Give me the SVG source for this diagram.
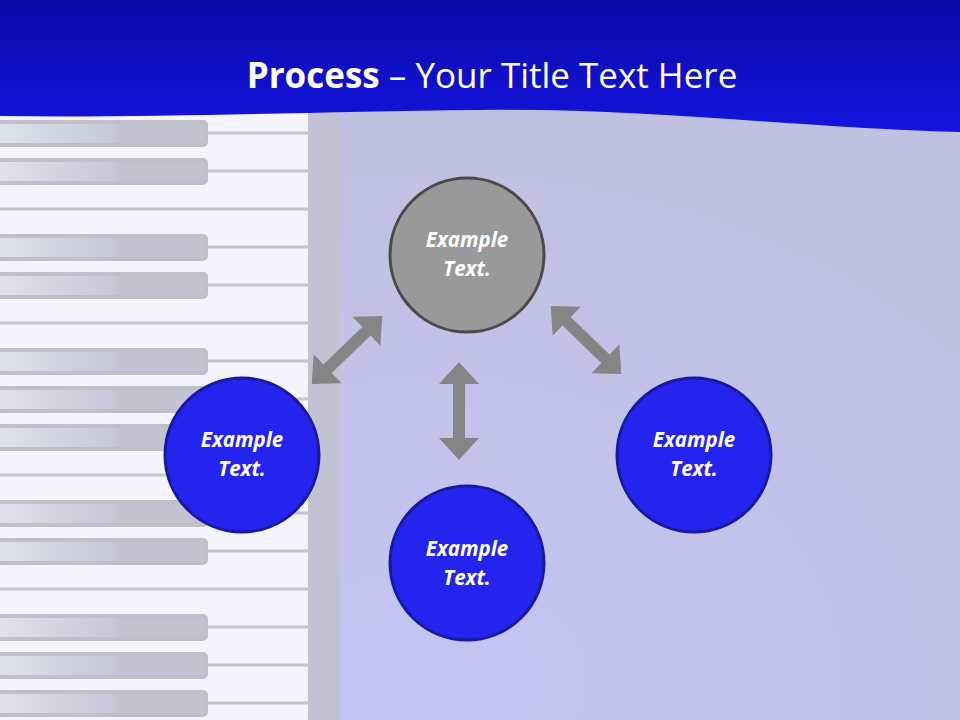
<svg xmlns="http://www.w3.org/2000/svg" width="960" height="720" viewBox="0 0 960 720">
<defs>
<linearGradient id="hdr" x1="0" y1="0" x2="0" y2="1"><stop offset="0" stop-color="#0a0aa8"/><stop offset="1" stop-color="#1414e0"/></linearGradient>
<radialGradient id="bg" cx="0.45" cy="0.95" r="0.8"><stop offset="0" stop-color="#c4c4f4"/><stop offset="1" stop-color="#c0c0e0"/></radialGradient>
<linearGradient id="bk" x1="0" y1="0" x2="1" y2="0"><stop offset="0" stop-color="#dfe4ee"/><stop offset="0.55" stop-color="#c6c9d8"/><stop offset="0.6" stop-color="#c2c2d0"/><stop offset="1" stop-color="#c2c2d0"/></linearGradient>
<path id="arr" d="M-49,0 L-27,-20 L-27,-6 L27,-6 L27,-20 L49,0 L27,20 L27,6 L-27,6 L-27,20 Z"/>
</defs>
<style>
.wl{stroke:#c4c4d0;stroke-width:3}
.bk{fill:url(#bk);stroke:#c0c0cc;stroke-width:4}
.arrow{fill:#858585}
.blue{fill:#2424ee;stroke:#1818a0;stroke-width:3}
.lbl{font-family:"Open Sans","Liberation Sans",sans-serif;font-weight:bold;font-style:italic;font-size:20.5px;fill:#fff;text-anchor:middle}
</style>
<rect width="960" height="720" fill="url(#bg)"/>
<rect x="0" y="100" width="308" height="620" fill="#f4f4fc"/>
<rect x="308" y="100" width="32" height="620" fill="#c2c2d2"/>
<g id="keys">
<line class="wl" x1="0" y1="133" x2="308" y2="133"/><line class="wl" x1="0" y1="171" x2="308" y2="171"/>
<line class="wl" x1="0" y1="209" x2="308" y2="209"/><line class="wl" x1="0" y1="247" x2="308" y2="247"/>
<line class="wl" x1="0" y1="285" x2="308" y2="285"/><line class="wl" x1="0" y1="323" x2="308" y2="323"/>
<line class="wl" x1="0" y1="361" x2="308" y2="361"/><line class="wl" x1="0" y1="399" x2="308" y2="399"/>
<line class="wl" x1="0" y1="437" x2="308" y2="437"/><line class="wl" x1="0" y1="475" x2="308" y2="475"/>
<line class="wl" x1="0" y1="513" x2="308" y2="513"/><line class="wl" x1="0" y1="551" x2="308" y2="551"/>
<line class="wl" x1="0" y1="589" x2="308" y2="589"/><line class="wl" x1="0" y1="627" x2="308" y2="627"/>
<line class="wl" x1="0" y1="665" x2="308" y2="665"/><line class="wl" x1="0" y1="703" x2="308" y2="703"/>
<rect class="bk" x="-5" y="122" width="211" height="23" rx="3"/>
<rect class="bk" x="-5" y="160" width="211" height="23" rx="3"/>
<rect class="bk" x="-5" y="236" width="211" height="23" rx="3"/>
<rect class="bk" x="-5" y="274" width="211" height="23" rx="3"/>
<rect class="bk" x="-5" y="350" width="211" height="23" rx="3"/>
<rect class="bk" x="-5" y="388" width="211" height="23" rx="3"/>
<rect class="bk" x="-5" y="426" width="211" height="23" rx="3"/>
<rect class="bk" x="-5" y="502" width="211" height="23" rx="3"/>
<rect class="bk" x="-5" y="540" width="211" height="23" rx="3"/>
<rect class="bk" x="-5" y="616" width="211" height="23" rx="3"/>
<rect class="bk" x="-5" y="654" width="211" height="23" rx="3"/>
<rect class="bk" x="-5" y="692" width="211" height="23" rx="3"/>
</g>
<path d="M0,0 H960 V132 C800,128 650,108 480,110 C300,112 150,118 0,116 Z" fill="url(#hdr)"/>
<text x="492" y="88" text-anchor="middle" font-family="'Open Sans','Liberation Sans',sans-serif" font-size="35" fill="#fff"><tspan font-weight="bold">Process</tspan> – Your Title Text Here</text>
<g id="connectors" class="arrow">
<use href="#arr" transform="translate(347,350) rotate(-44)"/>
<use href="#arr" transform="translate(586,340) rotate(44)"/>
<use href="#arr" transform="translate(459,411) rotate(90)"/>
</g>
<g id="top"><circle cx="467" cy="255" r="77" fill="#999" stroke="#4a4a4a" stroke-width="3"/><text class="lbl" x="467" y="247">Example</text><text class="lbl" x="467" y="276">Text.</text></g>
<g id="left"><circle class="blue" cx="242" cy="455" r="77"/><text class="lbl" x="242" y="447">Example</text><text class="lbl" x="242" y="476">Text.</text></g>
<g id="bottom"><circle class="blue" cx="467" cy="563" r="77"/><text class="lbl" x="467" y="556">Example</text><text class="lbl" x="467" y="585">Text.</text></g>
<g id="right"><circle class="blue" cx="694" cy="455" r="77"/><text class="lbl" x="694" y="447">Example</text><text class="lbl" x="694" y="476">Text.</text></g>
</svg>
